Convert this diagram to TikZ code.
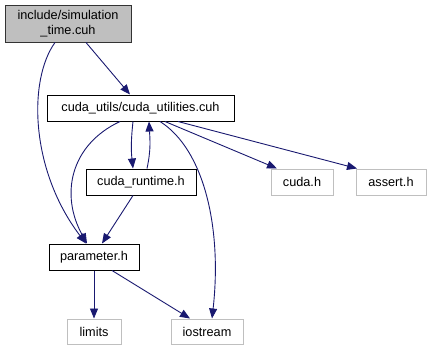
\documentclass[tikz,border=0pt]{standalone}
\usepackage{fontspec}
\setmainfont{Liberation Sans}
\usetikzlibrary{arrows.meta}
\definecolor{edgeblue}{RGB}{25,25,112}
\definecolor{extgray}{RGB}{191,191,191}
\definecolor{rootfill}{RGB}{191,191,191}
\begin{document}
\begin{tikzpicture}[x=1pt,y=-1pt,
  font=\fontsize{12.7}{15}\selectfont,
  filebox/.style={draw=black, line width=1pt, inner sep=0pt, fill=white},
  extbox/.style={draw=extgray, line width=1pt, inner sep=0pt, fill=white},
  dep/.style={draw=edgeblue, line width=0.9pt, -{Triangle[length=10pt,width=8pt]}, edgeblue}]
\useasboundingbox (0,0) rectangle (431,351);

% file nodes
\node[filebox, fill=rootfill, draw=black!80, minimum width=126pt, minimum height=37pt, align=center] (root) at (68,23.5) {include/simulation\\\_time.cuh};
\node[filebox, minimum width=187pt, minimum height=26pt] (util) at (140.5,108) {cuda\_utils/cuda\_utilities.cuh};
\node[filebox, minimum width=110pt, minimum height=26pt] (rt) at (141,182) {cuda\_runtime.h};
\node[extbox, minimum width=62pt, minimum height=26pt] (cudah) at (302,182) {cuda.h};
\node[extbox, minimum width=70pt, minimum height=26pt] (assert) at (391,182) {assert.h};
\node[filebox, minimum width=90pt, minimum height=26pt] (param) at (94,257) {parameter.h};
\node[extbox, minimum width=54pt, minimum height=25pt] (limits) at (94,331.5) {limits};
\node[extbox, minimum width=72pt, minimum height=25pt] (iostream) at (207,331.5) {iostream};

% include edges
\draw[dep] ([xshift=18pt]root.south) -- ([xshift=-10.5pt]util.north);
\draw[dep] ([xshift=-13pt]root.south) .. controls (28,80) and (30,170) .. ([xshift=-8pt]param.north);
\draw[dep] ([xshift=-20.5pt]util.south) .. controls (70,145) and (60,195) .. ([xshift=-7pt]param.north);
\draw[dep] ([xshift=-7.5pt]util.south) .. controls (131,140) and (131,150) .. ([xshift=-8pt]rt.north);
\draw[dep] ([xshift=6pt]rt.north) .. controls (151,150) and (150,140) .. ([xshift=8.5pt]util.south);
\draw[dep] ([xshift=-8pt]rt.south) -- ([xshift=8pt]param.north);
\draw[dep] ([xshift=19.5pt]util.south) .. controls (205,150) and (222,230) .. ([xshift=5pt]iostream.north);
\draw[dep] ([xshift=24.5pt]util.south) -- ([xshift=-25pt]cudah.north);
\draw[dep] ([xshift=37.5pt]util.south) -- ([xshift=-34pt]assert.north);
\draw[dep] (param.south) -- (limits.north);
\draw[dep] ([xshift=18pt]param.south) -- ([xshift=-17pt]iostream.north);
\end{tikzpicture}
\end{document}
